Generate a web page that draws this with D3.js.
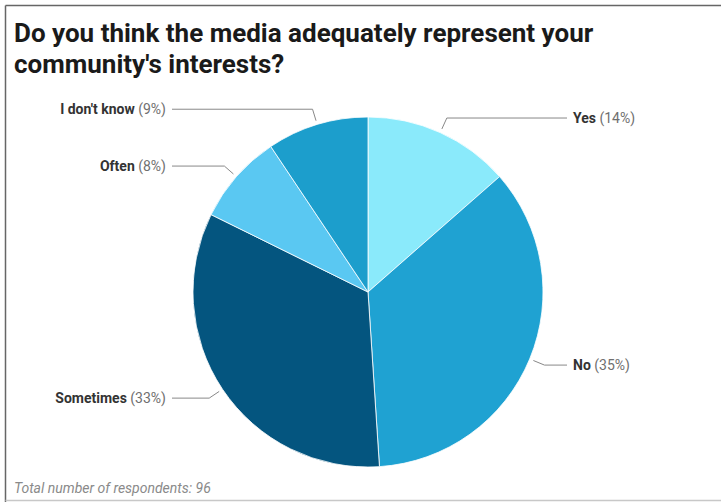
<!DOCTYPE html>
<html><head><meta charset="utf-8">
<script src="https://cdn.jsdelivr.net/npm/d3@7"></script>
<style>body{margin:0;background:#fff;}svg{display:block;font-family:Roboto,sans-serif;}</style>
</head><body>
<svg id="c" width="721" height="502"></svg>
<script>
const categories = ["Yes", "No", "Sometimes", "Often", "I don't know"];
const counts = [13, 34, 32, 8, 9];
const colors = ["#8AEAFB", "#1FA2D2", "#04557F", "#5AC8F2", "#1C9ECC"];
const titleLines = ["Do you think the media adequately represent your", "community's interests?"];
const footer = "Total number of respondents: 96";

const svg = d3.select("#c");
const W = 721, H = 502;
// frame
svg.append("line").attr("x1",5.5).attr("x2",W).attr("y1",5.5).attr("y2",5.5).attr("stroke","#666").attr("stroke-width",1.5);
svg.append("line").attr("x1",5.5).attr("x2",5.5).attr("y1",5.5).attr("y2",H).attr("stroke","#666").attr("stroke-width",1.5);
svg.append("line").attr("x1",5.5).attr("x2",W).attr("y1",500.5).attr("y2",500.5).attr("stroke","#c8c8c8").attr("stroke-width",1.5);

svg.selectAll("text.title").data(titleLines).join("text").attr("class","title")
  .attr("x",14).attr("y",(d,i)=>42+i*31)
  .attr("font-size",26).attr("font-weight",700).attr("fill","#1a1a1a").text(d=>d);

svg.append("text").attr("x",14).attr("y",493).attr("font-size",14).attr("font-style","italic")
  .attr("fill","#8a8a8a").text(footer);

const cx = 368, cy = 292, r = 175;
const total = d3.sum(counts);
const data = categories.map((c,i)=>({cat:c, v:counts[i], col:colors[i]}));
const pie = d3.pie().value(d=>d.v).sort(null);
const arcs = pie(data);
const arc = d3.arc().innerRadius(0).outerRadius(r);
const g = svg.append("g").attr("transform",`translate(${cx},${cy})`);
g.selectAll("path").data(arcs).join("path").attr("d",arc)
  .attr("fill",d=>d.data.col).attr("stroke","#fff").attr("stroke-width",0.8);

const pt = (a, rr) => [rr*Math.sin(a), -rr*Math.cos(a)];
const lab = svg.append("g").attr("transform",`translate(${cx},${cy})`);
arcs.forEach(d=>{
  const m = (d.startAngle+d.endAngle)/2;
  const p1 = pt(m, r+4), p2 = pt(m, r+16);
  const right = Math.sin(m) > 0;
  const xEnd = right ? 567-cx : 172-cx;
  lab.append("path").attr("d",`M${p1[0]},${p1[1]}L${p2[0]},${p2[1]}L${xEnd},${p2[1]}`)
    .attr("fill","none").attr("stroke","#888").attr("stroke-width",1);
  const pct = Math.round(d.data.v/total*100);
  const t = lab.append("text").attr("x", right ? 573-cx : 166-cx).attr("y",p2[1]+5)
    .attr("text-anchor", right ? "start" : "end").attr("font-size",14);
  t.append("tspan").attr("font-weight",700).attr("fill","#333").text(d.data.cat);
  t.append("tspan").attr("fill","#6f6f6f").text(` (${pct}%)`);
});
</script>
</body></html>
